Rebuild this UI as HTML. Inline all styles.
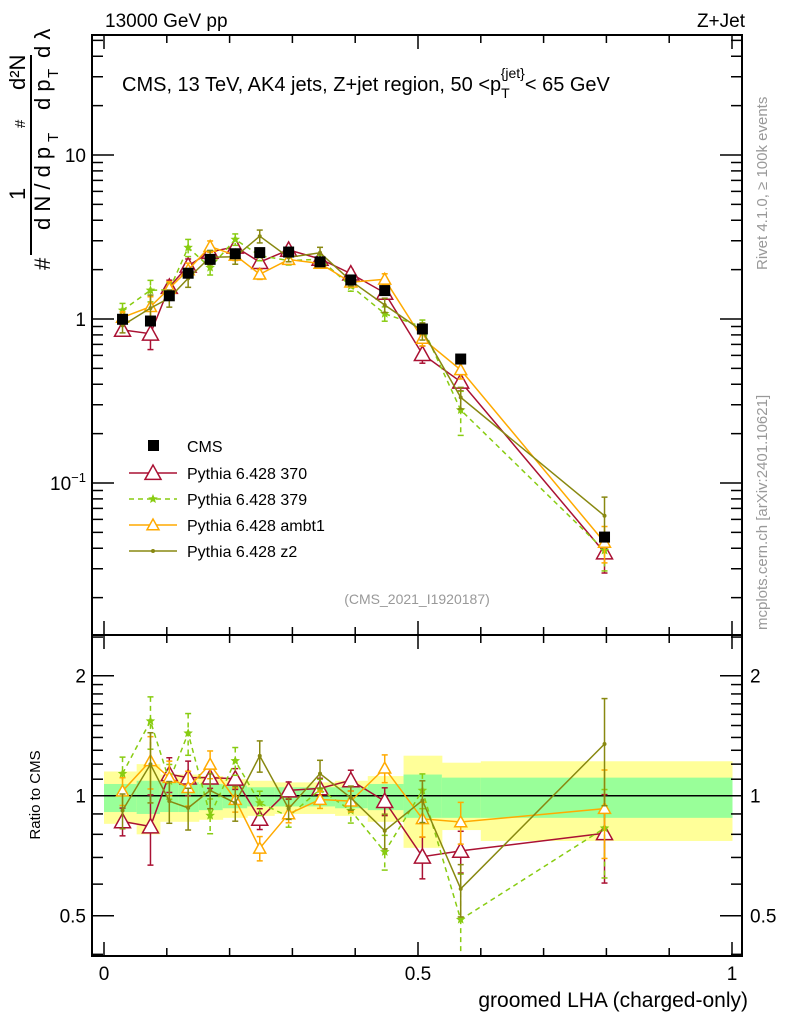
<!DOCTYPE html>
<html><head><meta charset="utf-8"><style>
body{margin:0;background:#fff}
svg{font-family:"Liberation Sans",sans-serif}
</style></head><body>
<svg id="c" width="786" height="1024" viewBox="0 0 786 1024" xmlns="http://www.w3.org/2000/svg">
<defs>
<clipPath id="cm"><rect x="92" y="35" width="650" height="600"/></clipPath>
<clipPath id="cr"><rect x="92" y="635" width="650" height="321"/></clipPath>
</defs>
<g id="bands" clip-path="url(#cr)"></g>
<g id="ratio" clip-path="url(#cr)"></g>
<g id="main" clip-path="url(#cm)"></g>
<g id="axes"></g>
<text x="105" y="27" font-size="19">13000 GeV pp</text>
<text x="745" y="27" font-size="19" text-anchor="end">Z+Jet</text>
<text x="122" y="91" font-size="20">CMS, 13 TeV, AK4 jets, Z+jet region, 50 &lt;p<tspan font-size="14" dy="7">T</tspan><tspan font-size="14" dy="-20" dx="-9">{jet}</tspan><tspan dy="13">&lt; 65 GeV</tspan></text>
<text x="417" y="604" font-size="14" fill="#999" text-anchor="middle">(CMS_2021_I1920187)</text>
<g transform="translate(50,270) rotate(-90)" font-size="22">
<text x="0" y="0">#</text><text x="40" y="0">d N / d p</text><text x="128" y="8" font-size="15">T</text><text x="70" y="-25">1</text>
<rect x="15" y="-20" width="200" height="2" fill="#000"/>
<text x="142" y="-25" font-size="15">#</text>
<text x="160" y="0">d p</text><text x="192" y="8" font-size="15">T</text><text x="212" y="0">d λ</text>
<text x="180" y="-25">d²N</text>
</g>
<text transform="translate(767,270) rotate(-90)" font-size="15" fill="#999">Rivet 4.1.0, ≥ 100k events</text>
<text transform="translate(767,630) rotate(-90)" font-size="15" fill="#999">mcplots.cern.ch [arXiv:2401.10621]</text>
<text transform="translate(40,795) rotate(-90)" font-size="15" text-anchor="middle">Ratio to CMS</text>
<text x="748" y="1007" font-size="21" text-anchor="end">groomed LHA (charged-only)</text>
<g id="legend"></g>
</svg>
<script>
const xs=[0.0295,0.074,0.104,0.134,0.169,0.209,0.248,0.294,0.344,0.393,0.447,0.507,0.568,0.797];
const edges=[0,0.052,0.089,0.119,0.151,0.189,0.228,0.271,0.319,0.368,0.42,0.477,0.538,0.6,1.0];
const cms=[0.996,0.972,1.385,1.902,2.31,2.50,2.54,2.56,2.23,1.73,1.49,0.869,0.570,0.0468];
const bandYellowUp=[1.15,1.20,1.13,1.13,1.12,1.10,1.09,1.08,1.08,1.09,1.12,1.26,1.21,1.22];
const bandYellowDn=[0.85,0.80,0.86,0.86,0.87,0.88,0.89,0.90,0.90,0.89,0.86,0.74,0.82,0.77];
const bandGreenUp=[1.07,1.09,1.08,1.08,1.07,1.06,1.05,1.05,1.05,1.05,1.07,1.13,1.11,1.11];
const bandGreenDn=[0.91,0.90,0.91,0.91,0.92,0.93,0.94,0.94,0.94,0.93,0.92,0.88,0.88,0.88];
const r370=[0.862,0.837,1.132,1.110,1.110,1.103,0.875,1.031,1.043,1.093,0.969,0.703,0.727,0.805];
const e370=[0.08,0.2,0.1,0.1,0.06,0.06,0.06,0.05,0.06,0.06,0.08,0.12,0.12,0.25];
const r379=[1.136,1.539,1.089,1.435,0.892,1.223,0.959,0.887,1.037,0.918,0.723,1.031,0.489,0.829];
const e379=[0.1,0.15,0.1,0.12,0.1,0.08,0.07,0.06,0.06,0.07,0.1,0.1,0.3,0.25];
const rAmbt=[1.027,1.223,1.110,1.047,1.199,0.978,0.738,0.900,0.978,0.969,1.172,0.875,0.859,0.928];
const eAmbt=[0.08,0.15,0.1,0.1,0.08,0.07,0.07,0.05,0.05,0.06,0.08,0.1,0.12,0.25];
const rZ2=[0.918,1.199,0.969,0.932,1.031,0.959,1.259,0.928,1.136,0.988,0.817,0.973,0.584,1.348];
const eZ2=[0.1,0.2,0.12,0.12,0.1,0.1,0.09,0.06,0.08,0.07,0.1,0.12,0.15,0.3];
const xTicks=[0,0.5,1];
const xTickLabels=["0","0.5","1"];
const NS="http://www.w3.org/2000/svg";
const X=v=>104+628*v;
const YM=v=>319-164*Math.log10(v);
const YR=r=>795.7-120*Math.log2(r);
function mk(p,tag,at){const e=document.createElementNS(NS,tag);for(const k in at)e.setAttribute(k,at[k]);p.appendChild(e);return e;}
const gB=document.getElementById('bands'),gR=document.getElementById('ratio'),gM=document.getElementById('main'),gA=document.getElementById('axes'),gL=document.getElementById('legend');
for(let i=0;i<xs.length;i++){
 let r=mk(gB,'rect',{x:X(edges[i]),y:YR(bandYellowUp[i]),width:X(edges[i+1])-X(edges[i])+0.5,height:YR(bandYellowDn[i])-YR(bandYellowUp[i]),fill:'#ffff99'});
 
 
 let g=mk(gB,'rect',{x:X(edges[i]),y:YR(bandGreenUp[i]),width:X(edges[i+1])-X(edges[i])+0.5,height:YR(bandGreenDn[i])-YR(bandGreenUp[i]),fill:'#99ff99'});
 
 
}
mk(gR,'line',{x1:92,x2:742,y1:YR(1),y2:YR(1),stroke:'#000','stroke-width':1.5});
const series=[
 {n:'pythia-370',label:'Pythia 6.428 370',r:r370,e:e370,c:'#aa1133',dash:'none',m:'tri',s:8},
 {n:'pythia-379',label:'Pythia 6.428 379',r:r379,e:e379,c:'#88cc11',dash:'5,4',m:'star',s:5},
 {n:'pythia-ambt1',label:'Pythia 6.428 ambt1',r:rAmbt,e:eAmbt,c:'#ffaa00',dash:'none',m:'tri',s:6},
 {n:'pythia-z2',label:'Pythia 6.428 z2',r:rZ2,e:eZ2,c:'#888811',dash:'none',m:'dot',s:2}
];
function marker(p,m,x,y,s,c){
 if(m=='tri')return mk(p,'polygon',{points:`${x},${y-s} ${x-s},${y+s*0.8} ${x+s},${y+s*0.8}`,fill:'#fff',stroke:c,'stroke-width':1.5});
 if(m=='star'){let pts=[];for(let k=0;k<10;k++){let a=-Math.PI/2+k*Math.PI/5,rr=k%2?s*0.45:s;pts.push((x+rr*Math.cos(a)).toFixed(1)+','+(y+rr*Math.sin(a)).toFixed(1));}return mk(p,'polygon',{points:pts.join(' '),fill:c});}
 return mk(p,'circle',{cx:x,cy:y,r:s,fill:c});
}
function drawSeries(p,s,yf,vals){
 const g=mk(p,'g',{});
 
 
 mk(g,'polyline',{points:xs.map((x,i)=>X(x)+','+yf(vals[i])).join(' '),fill:'none',stroke:s.c,'stroke-width':1.5,'stroke-dasharray':s.dash});
 xs.forEach((x,i)=>{const v=vals[i],lo=v*(1-s.e[i]),hi=v*(1+s.e[i]);const px=X(x);
  mk(g,'line',{x1:px,x2:px,y1:yf(hi),y2:yf(lo),stroke:s.c,'stroke-width':1.5,'stroke-dasharray':s.dash});
  mk(g,'line',{x1:px-3,x2:px+3,y1:yf(hi),y2:yf(hi),stroke:s.c,'stroke-width':1.5});
  mk(g,'line',{x1:px-3,x2:px+3,y1:yf(lo),y2:yf(lo),stroke:s.c,'stroke-width':1.5});
  const mm=marker(g,s.m,px,yf(v),s.s,s.c);
  
  
 });
}
series.forEach(s=>{
 drawSeries(gR,s,YR,s.r);
 drawSeries(gM,s,YM,s.r.map((r,i)=>r*cms[i]));
});
const gc=mk(gM,'g',{});


xs.forEach((x,i)=>{const sq=mk(gc,'rect',{x:X(x)-5.5,y:YM(cms[i])-5.5,width:11,height:11,fill:'#000'});
 
 });
[[35,635],[635,956]].forEach(([t,b])=>mk(gA,'rect',{x:92,y:t,width:650,height:b-t,fill:'none',stroke:'#000','stroke-width':2}));
function tk(x1,y1,x2,y2){mk(gA,'line',{x1:x1,y1:y1,x2:x2,y2:y2,stroke:'#000','stroke-width':1.5});}
for(let k=0;k<=10;k++){const v=k/10,px=X(v),L=(k%5==0)?14:8;
 [[35,1],[635,-1],[635,1],[956,-1]].forEach(([y,d])=>tk(px,y,px,y+d*L));}
xTicks.forEach((v,i)=>{const t=mk(gA,'text',{x:X(v),y:980,'font-size':19,'text-anchor':'middle'});t.textContent=xTickLabels[i];
 
 });
for(let d=-2;d<=1;d++)for(let m=1;m<=9;m++){const v=m*Math.pow(10,d),py=YM(v);if(py<35||py>635)continue;const L=m==1?22:11;tk(92,py,92+L,py);tk(742,py,742-L,py);}
[[10,'10'],[1,'1']].forEach(([v,s])=>{const t=mk(gA,'text',{x:86,y:YM(v)+7,'font-size':19,'text-anchor':'end'});t.textContent=s;});
{const t=mk(gA,'text',{x:50,y:YM(0.1)+7,'font-size':19});t.textContent='10';const sp=mk(t,'tspan',{'font-size':13,dy:-8});sp.textContent='−1';}
[0.4,0.5,0.6,0.7,0.8,0.9,1,1.1,1.2,1.3,1.4,1.5,1.6,1.7,1.8,1.9,2,2.5].forEach(v=>{const py=YR(v);if(py<635||py>956)return;const L=(v==0.5||v==1||v==2)?22:11;tk(92,py,92+L,py);tk(742,py,742-L,py);});
[[2,'2'],[1,'1'],[0.5,'0.5']].forEach(([v,s])=>{let t=mk(gA,'text',{x:86,y:YR(v)+7,'font-size':19,'text-anchor':'end'});t.textContent=s;
 t=mk(gA,'text',{x:750,y:YR(v)+7,'font-size':19});t.textContent=s;});
{const y0=446;const it=mk(gL,'g',{});
 mk(it,'rect',{x:148,y:y0-6,width:11,height:11,fill:'#000'});const t=mk(it,'text',{x:187,y:y0+6,'font-size':16});t.textContent='CMS';}
series.forEach((s,i)=>{const y=473+i*26;const it=mk(gL,'g',{});
 
 
 mk(it,'line',{x1:129,x2:177,y1:y,y2:y,stroke:s.c,'stroke-width':1.5,'stroke-dasharray':s.dash});
 marker(it,s.m,153,y,s.s,s.c);
 const t=mk(it,'text',{x:187,y:y+6,'font-size':16});t.textContent=s.label;});
</script>
</body></html>
